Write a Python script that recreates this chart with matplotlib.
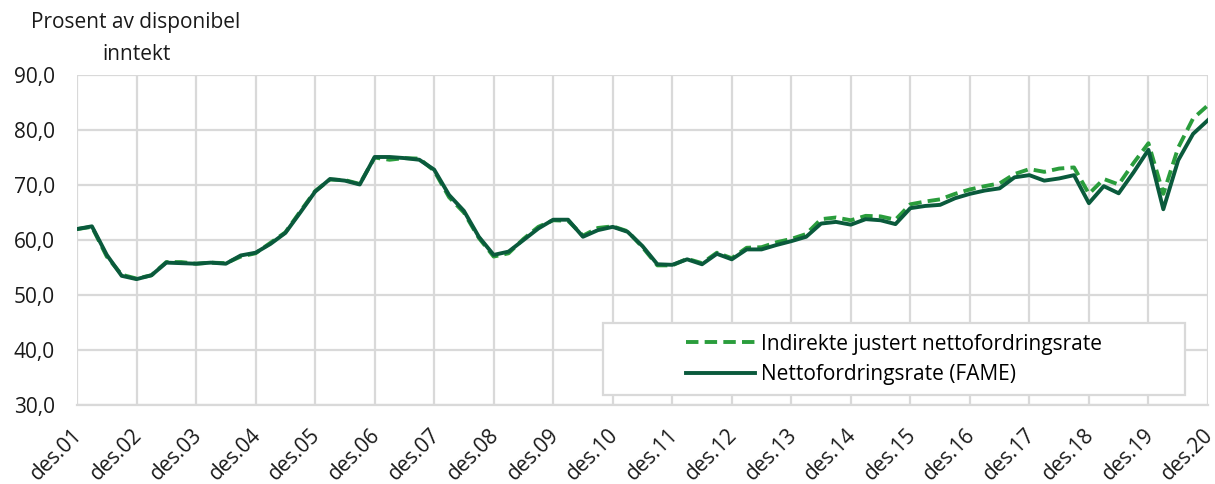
import numpy as np
import matplotlib
matplotlib.use("Agg")
import matplotlib.pyplot as plt
from matplotlib.patches import Rectangle
from matplotlib.transforms import ScaledTranslation

plt.rcParams['font.family'] = ['Open Sans', 'DejaVu Sans']

# kvartalsvis, des.01 - des.20
aar = ["des.%02d" % a for a in range(1, 21)]

fame = [62.0, 62.5, 57.3, 53.5, 52.9, 53.6, 55.9, 55.8,
        55.7, 55.9, 55.7, 57.2, 57.7, 59.3, 61.3, 65.0,
        68.8, 71.1, 70.8, 70.1, 75.1, 75.1, 74.9, 74.6,
        72.8, 68.2, 65.3, 60.6, 57.3, 57.9, 60.0, 62.1,
        63.7, 63.7, 60.6, 61.8, 62.4, 61.5, 58.9, 55.6,
        55.5, 56.5, 55.6, 57.5, 56.5, 58.3, 58.3, 59.1,
        59.8, 60.6, 63.0, 63.3, 62.8, 63.8, 63.6, 62.9,
        65.8, 66.2, 66.4, 67.6, 68.4, 69.0, 69.4, 71.4,
        71.8, 70.8, 71.2, 71.8, 66.7, 69.8, 68.5, 72.3,
        76.4, 65.6, 74.5, 79.3, 81.8]

justert = [62.0, 62.4, 57.0, 53.7, 53.0, 53.6, 56.0, 56.0,
           55.7, 55.9, 55.8, 57.0, 57.6, 59.5, 61.4, 65.2,
           68.9, 71.0, 70.9, 70.2, 75.0, 74.6, 74.9, 74.8,
           72.6, 67.8, 65.0, 60.4, 57.0, 57.6, 60.2, 62.4,
           63.6, 63.5, 60.8, 62.2, 62.5, 61.6, 58.7, 55.4,
           55.4, 56.6, 55.8, 57.7, 56.7, 58.6, 58.7, 59.6,
           60.2, 61.1, 63.8, 64.1, 63.6, 64.4, 64.3, 63.7,
           66.5, 67.0, 67.4, 68.4, 69.2, 69.8, 70.3, 72.0,
           72.9, 72.4, 73.0, 73.2, 68.4, 71.1, 70.1, 74.0,
           77.6, 68.4, 76.8, 82.1, 84.5]

x = np.arange(len(fame))

fig = plt.figure(figsize=(12.15, 4.84), dpi=100)
ax = fig.add_axes([0.0634, 0.163, 0.9308, 0.682])

ax.plot(x, justert, color='#2a9d3c', lw=2.8, linestyle=(0, (3.2, 1.6)),
        label='Indirekte justert nettofordringsrate', zorder=3)
ax.plot(x, fame, color='#0a5a3c', lw=2.8, label='Nettofordringsrate (FAME)', zorder=4)

ax.set_xlim(0, 76)
ax.set_ylim(30, 90)
ax.set_xticks(np.arange(0, 77, 4))
ax.set_xticklabels(aar, rotation=45, ha='right', rotation_mode='anchor', fontsize=15)
ax.set_yticks(np.arange(30, 91, 10))
ax.yaxis.set_major_formatter(matplotlib.ticker.FuncFormatter(lambda v, p: ("%.1f" % v).replace('.', ',')))
ax.tick_params(length=0, colors='#1a1a1a', labelsize=15)
ax.tick_params(axis='y', pad=16)
ax.tick_params(axis='x', pad=14)
# flytt datoetikettene litt mot venstre
skift = ScaledTranslation(-5 / 100, 0, fig.dpi_scale_trans)
for t in ax.get_xticklabels():
    t.set_transform(t.get_transform() + skift)

ax.grid(True, color='#d9d9d9', lw=1.6)
ax.set_axisbelow(True)
for s in ['top', 'right', 'left']:
    ax.spines[s].set_visible(False)
ax.spines['bottom'].set_color('#d9d9d9')
ax.spines['bottom'].set_linewidth(1.6)

# legendeboks
ax.add_patch(Rectangle((0.465, 0.03), 0.515, 0.218, transform=ax.transAxes,
                       facecolor='white', edgecolor='#d9d9d9', lw=1.6, zorder=5))
leg = ax.legend(loc='center', bbox_to_anchor=(0.7225, 0.139), frameon=False,
                fontsize=15, handlelength=3.3, handletextpad=0.3, labelspacing=0.45)
leg.set_zorder(6)
for h in leg.get_lines():
    h.set_linewidth(2.8)

fig.text(0.112, 0.975, "Prosent av disponibel\ninntekt", ha='center', va='top',
         fontsize=15, color='#1a1a1a', linespacing=1.7)

fig.savefig("out.png", dpi=100)
